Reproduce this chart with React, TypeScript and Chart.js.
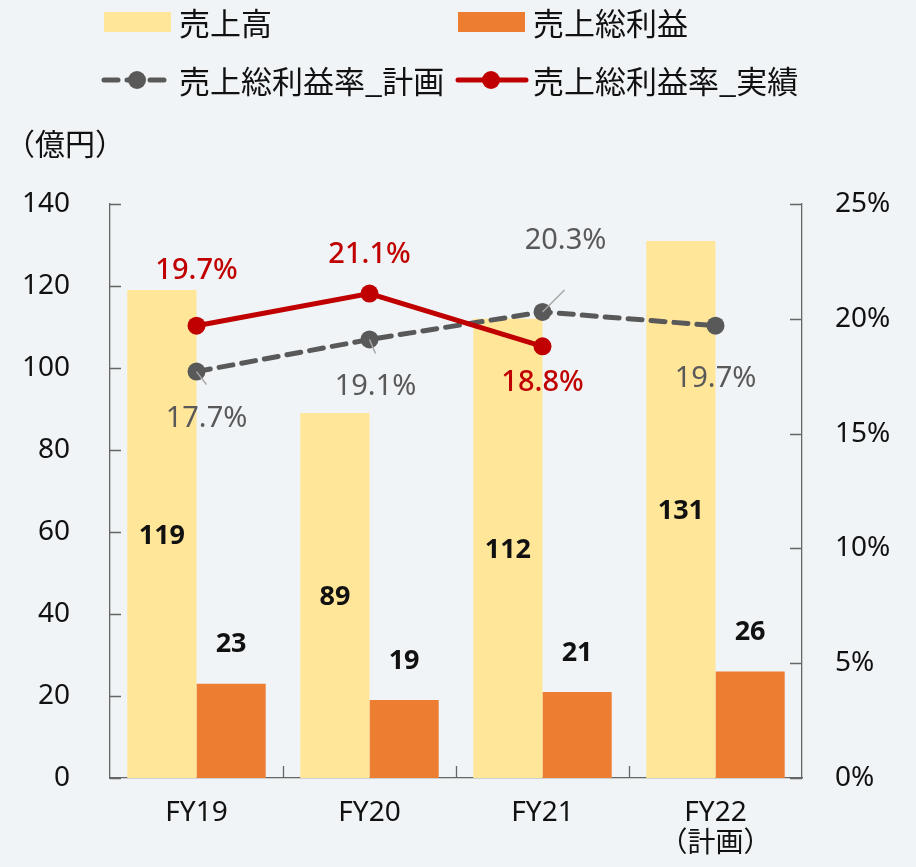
import React, { useEffect, useRef } from 'react';
import { Chart, registerables } from 'chart.js';

Chart.register(...registerables);

// ---- data ----
const categories: string[][] = [['FY19'], ['FY20'], ['FY21'], ['FY22', '（計画）']];
const seriesNames = ['売上高', '売上総利益', '売上総利益率_計画', '売上総利益率_実績'];
const salesValues = [119, 89, 112, 131];
const grossProfitValues = [23, 19, 21, 26];
const marginPlan = [17.7, 19.1, 20.3, 19.7];
const marginActual: (number | null)[] = [19.7, 21.1, 18.8, null];
const leftAxis = { min: 0, max: 140, step: 20 };
const rightAxis = { min: 0, max: 25, step: 5 };
const unitLabel = '（億円）';

// ---- styles ----
const BG = '#F0F4F6';
const AXIS = '#666666';
const TEXT = '#111111';
const LATIN = "'Noto Sans', 'Noto Sans CJK JP', sans-serif";
const CJK = "'Noto Sans CJK JP', 'Noto Sans', sans-serif";

// label offsets (pixels relative to the point)
const planLabelOffsets = [
  { dx: 10, dy: 47, lx: 10, ly: 13 },
  { dx: 6, dy: 47, lx: 6, ly: 14 },
  { dx: 23, dy: -71, lx: 22, ly: -22 },
  { dx: 0, dy: 53 },
];
const actualLabelOffsets = [
  { dx: 0, dy: -55 },
  { dx: 0, dy: -39 },
  { dx: 0, dy: 36 },
];

const backgroundPlugin = {
  id: 'bgFill',
  beforeDraw(chart: any) {
    const { ctx, width, height } = chart;
    ctx.save();
    ctx.fillStyle = BG;
    ctx.fillRect(0, 0, width, height);
    ctx.restore();
  },
};

const tickMarksPlugin = {
  id: 'innerTicks',
  afterDraw(chart: any) {
    const { ctx, chartArea } = chart;
    const y = chart.scales.y;
    const y1 = chart.scales.y1;
    const x = chart.scales.x;
    ctx.save();
    ctx.strokeStyle = AXIS;
    ctx.lineWidth = 1.3;
    ctx.beginPath();
    y.ticks.forEach((t: any) => {
      const py = Math.round(y.getPixelForValue(t.value)) + 0.5;
      ctx.moveTo(chartArea.left, py);
      ctx.lineTo(chartArea.left + 11, py);
    });
    y1.ticks.forEach((t: any) => {
      const py = Math.round(y1.getPixelForValue(t.value)) + 0.5;
      ctx.moveTo(chartArea.right - 12, py);
      ctx.lineTo(chartArea.right, py);
    });
    for (let i = 1; i < categories.length; i++) {
      const px = Math.round(x.getPixelForValue(i - 0.5)) + 0.5;
      ctx.moveTo(px, chartArea.bottom);
      ctx.lineTo(px, chartArea.bottom - 12);
    }
    ctx.stroke();
    ctx.restore();
  },
};

const dataLabelsPlugin = {
  id: 'valueLabels',
  afterDatasetsDraw(chart: any) {
    const { ctx } = chart;
    ctx.save();
    ctx.textAlign = 'center';
    ctx.textBaseline = 'middle';

    // sales: centered in bar
    const m0 = chart.getDatasetMeta(0);
    ctx.font = `bold 27px ${LATIN}`;
    ctx.fillStyle = TEXT;
    m0.data.forEach((el: any, i: number) => {
      ctx.fillText(String(salesValues[i]), el.x, (el.y + el.base) / 2 + 2);
    });
    // gross profit: above bar
    const m1 = chart.getDatasetMeta(1);
    m1.data.forEach((el: any, i: number) => {
      ctx.fillText(String(grossProfitValues[i]), el.x, el.y - 39);
    });

    // plan margin
    const m2 = chart.getDatasetMeta(2);
    ctx.font = `29px ${LATIN}`;
    m2.data.forEach((el: any, i: number) => {
      const o = planLabelOffsets[i];
      if (o.lx !== undefined) {
        ctx.strokeStyle = '#A6A6A6';
        ctx.lineWidth = 1.5;
        ctx.beginPath();
        ctx.moveTo(el.x, el.y);
        ctx.lineTo(el.x + o.lx, el.y + (o.ly as number));
        ctx.stroke();
      }
      ctx.fillStyle = '#595959';
      ctx.fillText(marginPlan[i].toFixed(1) + '%', el.x + o.dx, el.y + o.dy);
    });

    // actual margin
    const m3 = chart.getDatasetMeta(3);
    ctx.fillStyle = '#C00000';
    ctx.font = `500 29px ${LATIN}`;
    m3.data.forEach((el: any, i: number) => {
      const v = marginActual[i];
      if (v === null || v === undefined) return;
      const o = actualLabelOffsets[i];
      ctx.fillText(v.toFixed(1) + '%', el.x + o.dx, el.y + o.dy);
    });
    ctx.restore();
  },
};

const legendPositions = [
  { x: 104, y: 22 },
  { x: 458, y: 22 },
  { x: 102, y: 80 },
  { x: 456, y: 80 },
];

const customLegendPlugin = {
  id: 'customLegend',
  afterDraw(chart: any) {
    const { ctx } = chart;
    ctx.save();
    chart.data.datasets.forEach((ds: any, i: number) => {
      const p = legendPositions[i];
      if (!p) return;
      let textX = p.x + 77;
      if (ds.type === 'line') {
        ctx.strokeStyle = ds.borderColor;
        ctx.lineWidth = 5;
        ctx.lineCap = 'round';
        ctx.setLineDash(ds.borderDash || []);
        ctx.beginPath();
        ctx.moveTo(p.x + 2, p.y);
        ctx.lineTo(p.x + 70, p.y);
        ctx.stroke();
        ctx.setLineDash([]);
        ctx.fillStyle = ds.pointBackgroundColor;
        ctx.beginPath();
        ctx.arc(p.x + 35, p.y, 9, 0, Math.PI * 2);
        ctx.fill();
        textX = p.x + 77;
      } else {
        ctx.fillStyle = ds.backgroundColor;
        ctx.fillRect(p.x, p.y - 10, 67, 20);
        textX = p.x + 75;
      }
      ctx.fillStyle = TEXT;
      ctx.font = `31px ${CJK}`;
      ctx.textAlign = 'left';
      ctx.textBaseline = 'middle';
      ctx.fillText(ds.label, textX, p.y + 1);
    });
    // unit label
    ctx.font = `30px ${CJK}`;
    ctx.fillStyle = TEXT;
    ctx.textAlign = 'left';
    ctx.textBaseline = 'middle';
    ctx.fillText(unitLabel, 5, 144);
    ctx.restore();
  },
};

export default function App() {
  const canvasRef = useRef<HTMLCanvasElement | null>(null);

  useEffect(() => {
    document.body.style.margin = '0';
    document.body.style.background = BG;
    const canvas = canvasRef.current;
    if (!canvas) return;
    const chart = new Chart(canvas, {
      type: 'bar',
      data: {
        labels: categories,
        datasets: [
          {
            type: 'bar',
            label: seriesNames[0],
            data: salesValues,
            backgroundColor: '#FFE699',
            yAxisID: 'y',
            order: 2,
            categoryPercentage: 0.8,
            barPercentage: 1.0,
          },
          {
            type: 'bar',
            label: seriesNames[1],
            data: grossProfitValues,
            backgroundColor: '#ED7D31',
            yAxisID: 'y',
            order: 3,
            categoryPercentage: 0.8,
            barPercentage: 1.0,
          },
          {
            type: 'line',
            label: seriesNames[2],
            data: marginPlan,
            borderColor: '#595959',
            backgroundColor: '#595959',
            borderWidth: 5,
            borderDash: [14, 9],
            borderCapStyle: 'round',
            pointRadius: 9,
            pointBorderWidth: 0,
            pointBackgroundColor: '#595959',
            tension: 0,
            yAxisID: 'y1',
            order: 1,
          },
          {
            type: 'line',
            label: seriesNames[3],
            data: marginActual,
            borderColor: '#C00000',
            backgroundColor: '#C00000',
            borderWidth: 5,
            pointRadius: 9,
            pointBorderWidth: 0,
            pointBackgroundColor: '#C00000',
            tension: 0,
            yAxisID: 'y1',
            order: 0,
          },
        ] as any,
      },
      options: {
        animation: false,
        responsive: true,
        maintainAspectRatio: false,
        devicePixelRatio: 1,
        layout: { padding: { top: 204, left: 0, right: 0, bottom: 0 } },
        plugins: {
          legend: { display: false },
          tooltip: { enabled: false },
        },
        scales: {
          x: {
            offset: true,
            grid: { display: false, drawTicks: false },
            border: { display: true, color: AXIS, width: 1.3 },
            ticks: {
              color: TEXT,
              padding: 20,
              font: { family: LATIN, size: 28, lineHeight: 1.1 },
              maxRotation: 0,
              autoSkip: false,
            },
            afterFit(scale: any) {
              scale.height = 89;
            },
          },
          y: {
            position: 'left',
            min: leftAxis.min,
            max: leftAxis.max,
            grid: { display: false, drawTicks: false },
            border: { display: true, color: AXIS, width: 1.3 },
            ticks: {
              stepSize: leftAxis.step,
              color: TEXT,
              padding: 40,
              font: { family: LATIN, size: 28 },
            },
            afterFit(scale: any) {
              scale.width = 110;
            },
          },
          y1: {
            position: 'right',
            min: rightAxis.min,
            max: rightAxis.max,
            grid: { display: false, drawTicks: false },
            border: { display: true, color: AXIS, width: 1.3 },
            ticks: {
              stepSize: rightAxis.step,
              color: TEXT,
              padding: 33,
              font: { family: LATIN, size: 28 },
              callback: (v: any) => `${v}%`,
            },
            afterFit(scale: any) {
              scale.width = 114;
            },
          },
        },
      } as any,
      plugins: [backgroundPlugin, dataLabelsPlugin, tickMarksPlugin, customLegendPlugin],
    });
    return () => chart.destroy();
  }, []);

  return (
    <div style={{ width: 916, height: 867, position: 'relative', background: BG }}>
      <canvas ref={canvasRef} />
    </div>
  );
}
